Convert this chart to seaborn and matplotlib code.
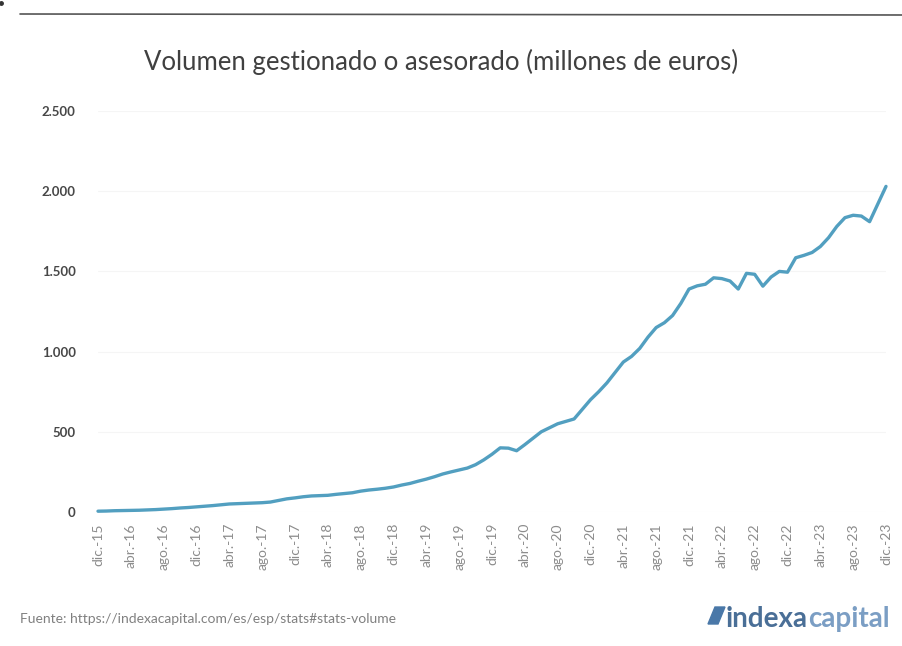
import numpy as np
import pandas as pd
import seaborn as sns
import matplotlib.pyplot as plt
from matplotlib.lines import Line2D
from matplotlib.patches import Polygon

# monthly volume (millions EUR), dic.-15 .. dic.-23
volumen = [5, 6, 8, 9, 10, 11, 13, 15, 18, 21, 25, 28,
           32, 36, 40, 45, 50, 52, 54, 56, 58, 62, 72, 82,
           88, 95, 100, 102, 104, 110, 115, 120, 130, 137, 142, 148,
           156, 168, 178, 192, 205, 220, 237, 250, 262, 274, 295, 325,
           360, 400, 398, 382, 420, 460, 500, 525, 550, 565, 580, 640,
           700, 750, 805, 870, 935, 970, 1020, 1090, 1150, 1180, 1225, 1300,
           1390, 1410, 1420, 1460, 1455, 1440, 1390, 1488, 1482, 1408, 1465, 1500,
           1495, 1585, 1600, 1618, 1655, 1710, 1780, 1835, 1850, 1845, 1810, 1920,
           2030]
meses = ["ene.", "feb.", "mar.", "abr.", "may.", "jun.",
         "jul.", "ago.", "sep.", "oct.", "nov.", "dic."]
y_ticks = [0, 500, 1000, 1500, 2000, 2500]
y_labels = ["0", "500", "1.000", "1.500", "2.000", "2.500"]

etiquetas = []
for i in range(len(volumen)):
    m = (11 + i) % 12
    yy = 15 + (11 + i) // 12
    etiquetas.append(f"{meses[m]}-{yy}")

df = pd.DataFrame({"idx": np.arange(len(volumen)), "volumen": volumen, "mes": etiquetas})

sns.set_style("white")
plt.rcParams["font.family"] = ["Lato", "DejaVu Sans"]

fig = plt.figure(figsize=(9.03, 6.46), dpi=100)
ax = fig.add_axes([98 / 903, 1 - 512 / 646, (886 - 98) / 903, (512 - 111) / 646])

sns.lineplot(data=df, x="idx", y="volumen", ax=ax, color="#529fc0", linewidth=2.4)
for l in ax.lines:
    l.set_clip_on(False)

ax.set_xlim(0, len(volumen) - 1)
ax.set_ylim(0, 2500)
ax.set_yticks(y_ticks)
ax.set_yticklabels(y_labels, color="#474747", fontsize=9.5, fontweight="bold")
ax.yaxis.grid(True, color="#f5f5f5", linewidth=0.8)
ax.set_axisbelow(True)

pos = list(range(0, len(volumen), 4))
ax.set_xticks(pos)
ax.set_xticklabels([etiquetas[p] for p in pos], rotation=90, color="#8c8c8c", fontsize=10)
ax.tick_params(axis="x", pad=8, length=0)
ax.tick_params(axis="y", pad=16, length=0)
ax.set_xlabel("")
ax.set_ylabel("")
sns.despine(ax=ax, left=True, bottom=True)

fig.text(0.488, 1 - 62 / 646, "Volumen gestionado o asesorado (millones de euros)",
         ha="center", va="center", fontsize=18.5, color="#404040")

# document rule at top
fig.add_artist(Line2D([20 / 903, 1], [1 - 14 / 646, 1 - 15 / 646], color="#555555", linewidth=1.2))
fig.add_artist(Line2D([1.5 / 903], [1 - 3 / 646], marker="o", markersize=2.5, color="#333333"))

fig.text(20 / 903, 1 - 619 / 646, "Fuente: https://indexacapital.com/es/esp/stats#stats-volume",
         ha="left", va="center", fontsize=10, color="#808080")

# logo
icon = Polygon([[708 / 903, 1 - 624 / 646], [715 / 903, 1 - 607 / 646],
                [725 / 903, 1 - 607 / 646], [718 / 903, 1 - 624 / 646]],
               closed=True, transform=fig.transFigure, color="#4a78a8")
fig.add_artist(icon)
t1 = fig.text(726 / 903, 1 - 619 / 646, "indexa", ha="left", va="center",
              fontsize=20, fontweight="bold", color="#4a6f97")
fig.canvas.draw()
bb = t1.get_window_extent()
fig.text(bb.x1 / fig.bbox.width, 1 - 619 / 646, "capital", ha="left", va="center",
         fontsize=20, fontweight="bold", color="#7b9ec4")

plt.savefig("out.png", dpi=100)
